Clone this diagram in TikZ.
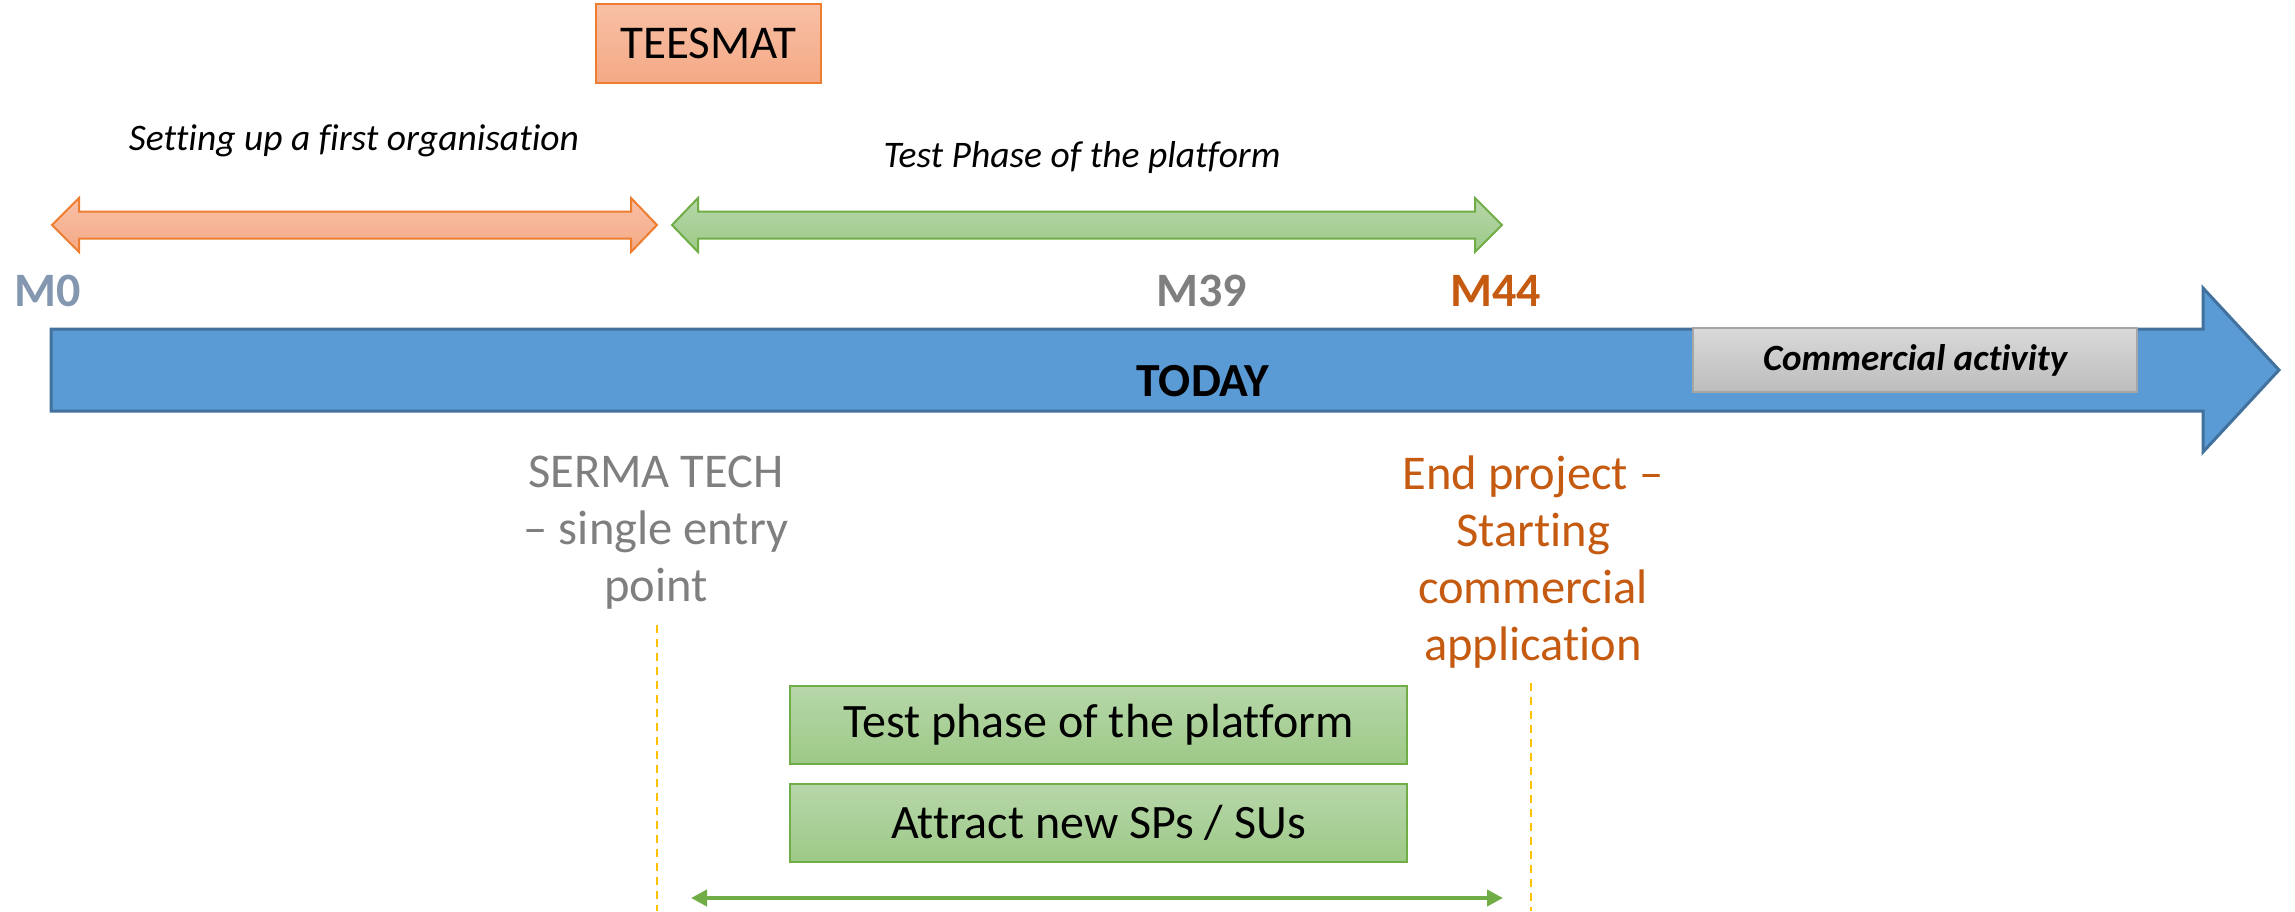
\documentclass[tikz,border=0pt]{standalone}
\usepackage{fontspec}
\setmainfont{Carlito}[Ligatures=NoCommon]
\usetikzlibrary{arrows.meta}

\definecolor{barfill}{HTML}{5B9BD5}
\definecolor{baredge}{HTML}{41719C}
\definecolor{orangetop}{HTML}{F8C0A6}
\definecolor{orangebot}{HTML}{F4A985}
\definecolor{orangeedge}{HTML}{ED7D31}
\definecolor{greentop}{HTML}{B7D7AA}
\definecolor{greenbot}{HTML}{9DC987}
\definecolor{greenedge}{HTML}{70AD47}
\definecolor{graytop}{HTML}{D9D9D9}
\definecolor{graybot}{HTML}{BDBDBD}
\definecolor{grayedge}{HTML}{A5A5A5}
\definecolor{mzero}{HTML}{8497B0}
\definecolor{mgray}{HTML}{7F7F7F}
\definecolor{mrust}{HTML}{C55A11}
\definecolor{guide}{HTML}{FFC000}

\tikzset{
  phasebar/.style={line width=2pt, top color=#1top, bottom color=#1bot, draw=#1edge},
  phasecap/.style={font=\fontsize{37.5}{45}\selectfont\itshape, anchor=base, inner sep=0pt},
  milestone/.style={font=\fontsize{48}{56}\selectfont\bfseries, anchor=base west, inner sep=0pt},
  note/.style={font=\fontsize{48.5}{57}\selectfont, align=center, inner sep=0pt},
  taskbox/.style={draw=greenedge, line width=2pt, top color=greentop, bottom color=greenbot,
    minimum width=617pt, minimum height=78pt, inner sep=0pt, font=\fontsize{48}{56}\selectfont},
  guideline/.style={draw=guide, line width=2.5pt, dash pattern=on 8pt off 6pt},
  spanline/.style={draw=greenedge, line width=4pt, >={Triangle[length=16pt,width=16pt]}, <->},
}

\begin{document}
\begin{tikzpicture}[x=1pt, y=-1pt]
\useasboundingbox (0,0) rectangle (2295,911);

% main time axis
\path[draw=baredge, line width=3pt, fill=barfill]
  (51,329) -- (2203,329) -- (2203,288) -- (2279,370) -- (2203,452) -- (2203,411) -- (51,411) -- cycle;

% organisation phase and test phase
\path[phasebar=orange]
  (52,225) -- (79,198) -- (79,211.5) -- (631,211.5) -- (631,198) -- (657,225)
  -- (631,252) -- (631,238.5) -- (79,238.5) -- (79,252) -- cycle;
\path[phasebar=green]
  (672,225) -- (698,198) -- (698,211.5) -- (1475,211.5) -- (1475,198) -- (1502,225)
  -- (1475,252) -- (1475,238.5) -- (698,238.5) -- (698,252) -- cycle;

\node[phasecap] (org) at (354,150) {Setting up a first organisation};
\node[phasecap] (test) at (1082,167) {Test Phase of the platform};

% project box
\node[draw=orangeedge, line width=2pt, top color=orangetop, bottom color=orangebot,
  minimum width=225pt, minimum height=79pt, inner sep=0pt,
  font=\fontsize{47}{56}\selectfont] (teesmat) at (708.5,43.5) {TEESMAT};

% milestones
\node[milestone, text=mzero] (m0) at (14,306) {M0};
\node[milestone, text=mgray] (m39) at (1156,306) {M39};
\node[milestone, text=mrust] (m44) at (1450,306) {M44};

\node[font=\fontsize{47.5}{56}\selectfont\bfseries, anchor=base, inner sep=0pt] (today) at (1203,396) {TODAY};

\node[draw=grayedge, line width=2pt, top color=graytop, bottom color=graybot,
  minimum width=444pt, minimum height=64pt, inner sep=0pt,
  font=\fontsize{37}{44}\selectfont\bfseries\itshape] (comm) at (1915,360) {Commercial activity};

% notes below the axis
\node[note, text=mgray] (serma) at (656,533) {SERMA TECH\\– single entry\\point};
\node[note, text=mrust] (endp) at (1533,562) {End project –\\Starting\\commercial\\application};

% guides
\coordinate (gl1) at (657,625);
\coordinate (gl2) at (657,911);
\coordinate (gr1) at (1531,683);
\coordinate (gr2) at (1531,911);
\draw[guideline] (gl1) -- (gl2);
\draw[guideline] (gr1) -- (gr2);

% tasks
\node[taskbox] (task1) at (1098.5,724.5) {Test phase of the platform};
\node[taskbox] (task2) at (1098.5,822.5) {Attract new SPs / SUs};

\coordinate (sa) at (691,898);
\coordinate (sb) at (1503,898);
\draw[spanline] (sa) -- (sb);
\end{tikzpicture}
\end{document}
